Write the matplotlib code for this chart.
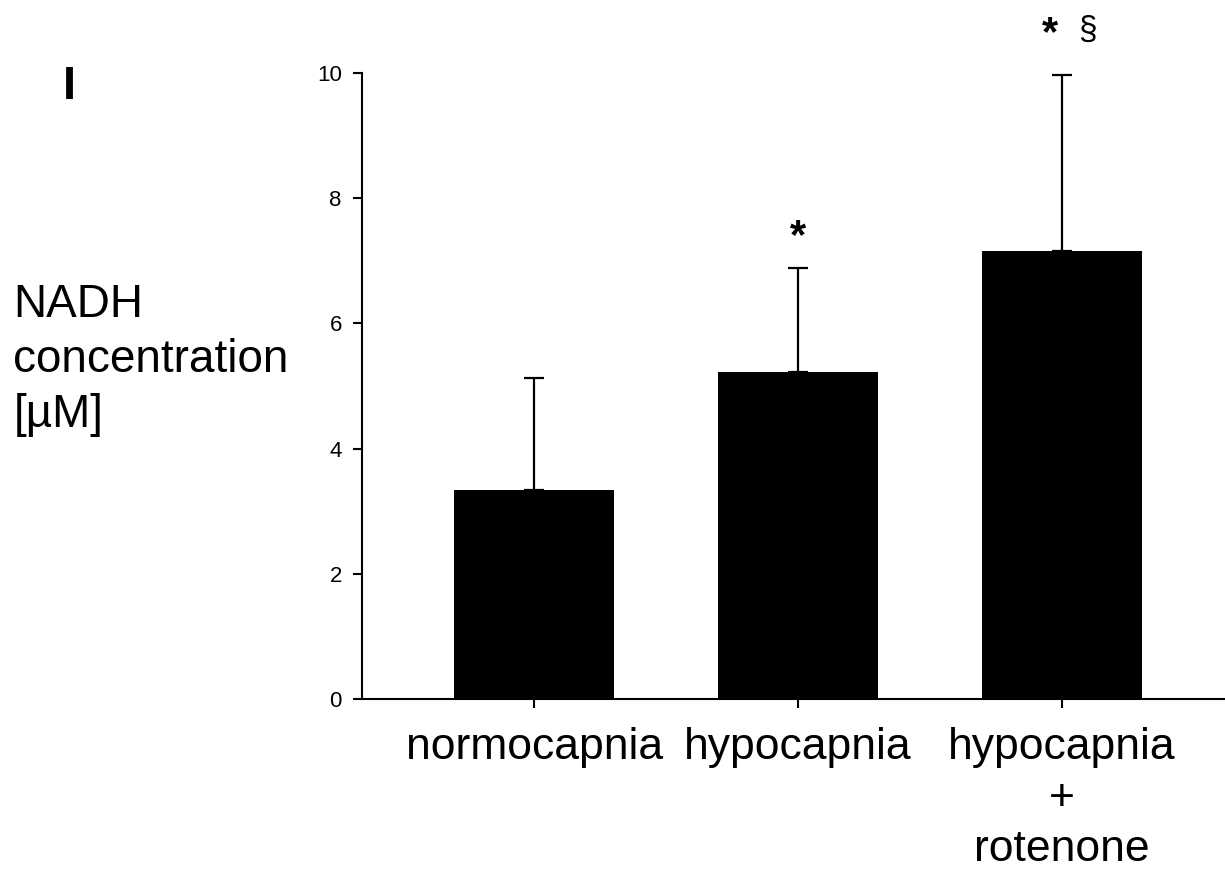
import numpy as np
import matplotlib
matplotlib.use("Agg")
import matplotlib.pyplot as plt

plt.rcParams['font.family'] = ['Liberation Sans', 'DejaVu Sans']

# data
groups = ["normocapnia", "hypocapnia", "hypocapnia\n+\nrotenone"]
nadh_mean = [3.34, 5.22, 7.16]
nadh_sd = [1.79, 1.67, 2.80]
sig_star = [False, True, True]      # * vs normocapnia
sig_section = [False, False, True]  # § vs hypocapnia
y_ticks = [0, 2, 4, 6, 8, 10]

fig = plt.figure(figsize=(12.25, 8.71), dpi=100)
ax = fig.add_axes([0.2955, 0.1975, 0.7045, 0.7187])

x = np.arange(len(groups))
ax.bar(x, nadh_mean, width=0.606, color="black", zorder=2)
ax.errorbar(x, nadh_mean, yerr=[np.zeros(len(x)), nadh_sd], fmt="none",
            ecolor="black", elinewidth=1.6, capsize=7.2, capthick=1.6, zorder=1)

for xi, m, s, st, sec in zip(x, nadh_mean, nadh_sd, sig_star, sig_section):
    top = m + s
    if st and not sec:
        ax.annotate("*", (xi, top), xytext=(0, 22), textcoords="offset points",
                    ha="center", va="center", fontsize=30, fontweight="bold")
    elif st and sec:
        ax.annotate("*", (xi, top), xytext=(-8.6, 29.5), textcoords="offset points",
                    ha="center", va="center", fontsize=30, fontweight="bold")
        ax.annotate("§", (xi, top), xytext=(18, 32.5), textcoords="offset points",
                    ha="center", va="center", fontsize=24)

ax.set_xlim(-0.652, 2.617)
ax.set_ylim(0, 10)
ax.set_yticks(y_ticks)
ax.set_yticklabels([str(t) for t in y_ticks], fontsize=16)
ax.set_xticks(x)
ax.set_xticklabels(groups, fontsize=32, linespacing=1.3)

for side in ["top", "right"]:
    ax.spines[side].set_visible(False)
for side in ["left", "bottom"]:
    ax.spines[side].set_linewidth(1.5)
ax.tick_params(axis="both", direction="out", length=6.5, width=1.5)
ax.tick_params(axis="x", pad=14)
ax.tick_params(axis="y", pad=8)

fig.text(0.011, 0.587, "NADH\nconcentration\n[µM]", fontsize=33, ha="left", va="center",
         linespacing=1.33)
fig.text(0.057, 0.90, "I", fontsize=34, fontweight="bold", ha="center", va="center")

fig.savefig("out.png", dpi=100)
